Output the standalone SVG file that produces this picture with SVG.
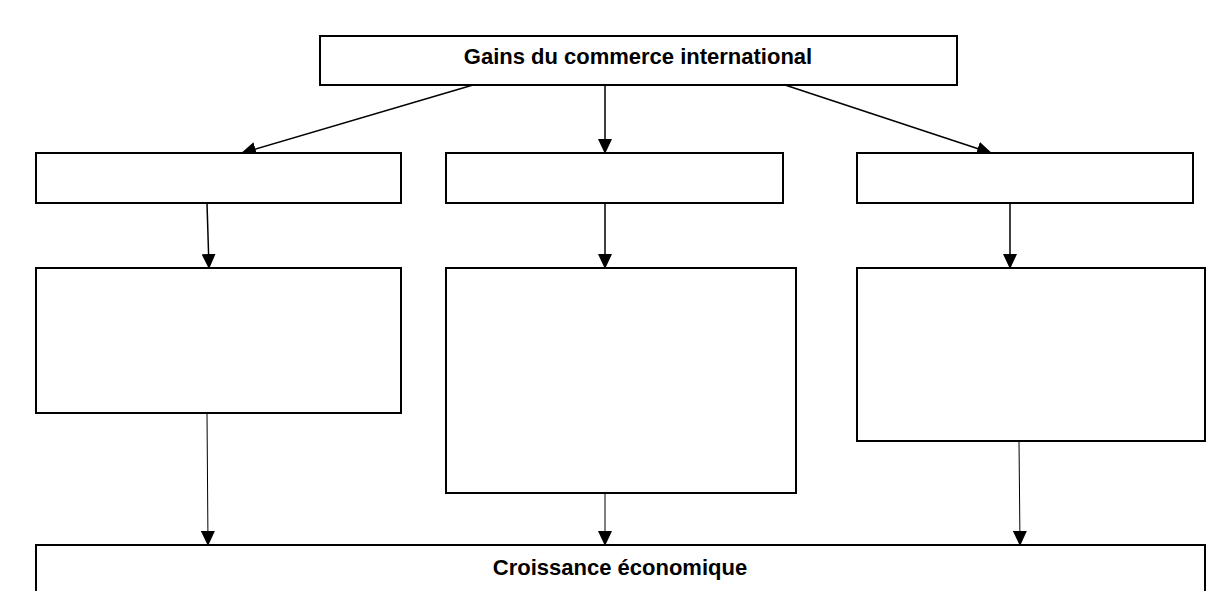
<svg xmlns="http://www.w3.org/2000/svg" width="1215" height="591" viewBox="0 0 1215 591">
<style>
.box{fill:#fff;stroke:#000;stroke-width:2}
.lbl{font-family:"Liberation Sans",Arial,sans-serif;font-weight:bold;font-size:22px;text-anchor:middle;fill:#000}
.c{stroke:#000;stroke-width:1.5;fill:none;marker-end:url(#ah)}
.t{stroke-width:1}
</style>
<defs>
<marker id="ah" markerWidth="15" markerHeight="14" refX="14" refY="7" orient="auto" markerUnits="userSpaceOnUse">
<path d="M0,0 L15,7 L0,14 Z" fill="#000"/>
</marker>
</defs>
<rect width="1215" height="591" fill="#fff"/>
<g id="connectors">
<line class="c" x1="473" y1="85" x2="242" y2="153"/>
<line class="c" x1="605" y1="85" x2="605" y2="153"/>
<line class="c" x1="785" y1="85" x2="991" y2="153"/>
<line class="c" x1="207" y1="203" x2="209" y2="268"/>
<line class="c" x1="605" y1="203" x2="605" y2="268"/>
<line class="c" x1="1010" y1="203" x2="1010" y2="268"/>
<line class="c t" x1="207" y1="413" x2="208" y2="545"/>
<line class="c t" x1="605" y1="493" x2="605" y2="545"/>
<line class="c t" x1="1019" y1="441" x2="1020" y2="545"/>
</g>
<g id="top">
<rect class="box" x="320" y="36" width="637" height="49"/>
<text class="lbl" x="638" y="64">Gains du commerce international</text>
</g>
<g id="b1"><rect class="box" x="36" y="153" width="365" height="50"/></g>
<g id="b2"><rect class="box" x="446" y="153" width="337" height="50"/></g>
<g id="b3"><rect class="box" x="857" y="153" width="336" height="50"/></g>
<g id="c1"><rect class="box" x="36" y="268" width="365" height="145"/></g>
<g id="c2"><rect class="box" x="446" y="268" width="350" height="225"/></g>
<g id="c3"><rect class="box" x="857" y="268" width="348" height="173"/></g>
<g id="bottom">
<rect class="box" x="36" y="545" width="1169" height="60"/>
<text class="lbl" x="620" y="575">Croissance économique</text>
</g>
</svg>
